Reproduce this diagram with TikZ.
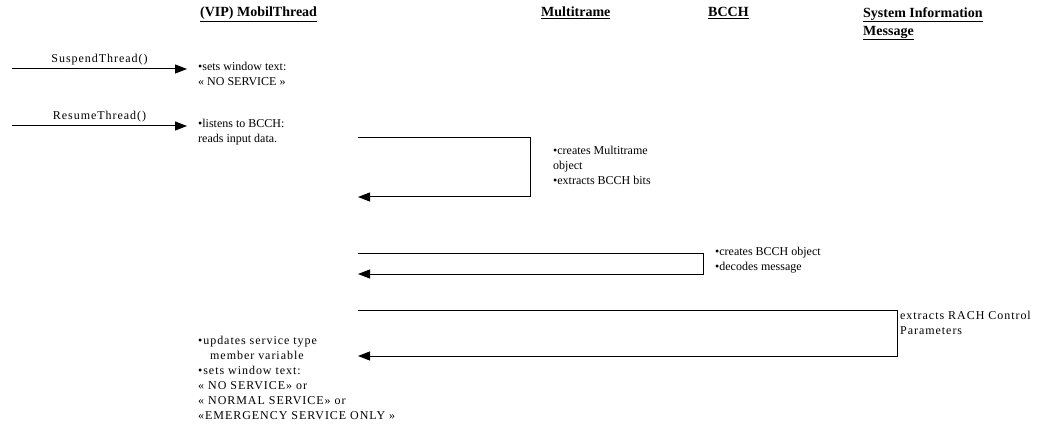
\documentclass[tikz,border=0pt]{standalone}
\usepackage{fontspec}
\setmainfont{Liberation Serif}
\usetikzlibrary{arrows.meta,positioning}

\begin{document}
\begin{tikzpicture}[x=1pt, y=-1pt,
  >={Triangle[length=12pt,width=9pt]},
  every node/.style={font=\fontsize{12}{15}\selectfont},
  head/.style={anchor=north west, inner sep=0pt, align=left, font=\fontsize{14}{18}\selectfont\bfseries},
  note/.style={anchor=north west, inner sep=0pt, align=left},
  wide/.style={font=\addfontfeatures{LetterSpace=8}\fontsize{12}{15}\selectfont},
  call/.style={->, line width=1pt},
  msg/.style={->, line width=1pt},
]
  \useasboundingbox (0,0) rectangle (1056,446);

  % lifeline heads
  \node[head] (mobil) at (200,7) {\underline{(VIP) MobilThread}};
  \node[head] (multi) at (541,7) {\underline{Multitrame}};
  \node[head] (bcch)  at (708,7) {\underline{BCCH}};
  \node[head] (sysinfo) at (863,7) {\underline{System Information}\\\underline{Message}};

  % incoming calls
  \coordinate (susp-in)  at (12,69);
  \coordinate (susp-end) at (187,69);
  \coordinate (res-in)   at (12,126);
  \coordinate (res-end)  at (187,126);
  \draw[call] (susp-in) -- node[above=0pt, wide] (susp) {SuspendThread()} (susp-end);
  \draw[call] (res-in) -- node[above=0pt, wide] (resume) {ResumeThread()} (res-end);

  \node[note] (sets) at (198,62) {\textbullet sets window text:\\« NO SERVICE »};
  \node[note] (listens) at (198,119) {\textbullet listens to BCCH:\\reads input data.};

  % Multitrame
  \coordinate (mt-out) at (358,138);
  \coordinate (mt-in)  at (358,197);
  \draw[msg] (mt-out) -- ++(172,0) |- (mt-in);
  \node[note] (mt-note) at (553,146) {\textbullet creates Multitrame\\object\\\textbullet extracts BCCH bits};

  % BCCH
  \coordinate (bc-out) at (358,253);
  \coordinate (bc-in)  at (358,274);
  \draw[msg] (bc-out) -- ++(345,0) |- (bc-in);
  \node[note] (bc-note) at (715,247) {\textbullet creates BCCH object\\\textbullet decodes message};

  % System Information Message
  \coordinate (si-out) at (358,310);
  \coordinate (si-in)  at (358,356);
  \draw[msg] (si-out) -- ++(539,0) |- (si-in);
  \node[note, wide] (si-note) at (900,311) {extracts RACH Control\\Parameters};

  \node[note, wide] (update) at (198,336) {\textbullet updates service type\\
    \hspace*{1em}member variable\\
    \textbullet sets window text:\\
    « NO SERVICE» or\\
    « NORMAL SERVICE» or\\
    «EMERGENCY SERVICE ONLY »};
\end{tikzpicture}
\end{document}
